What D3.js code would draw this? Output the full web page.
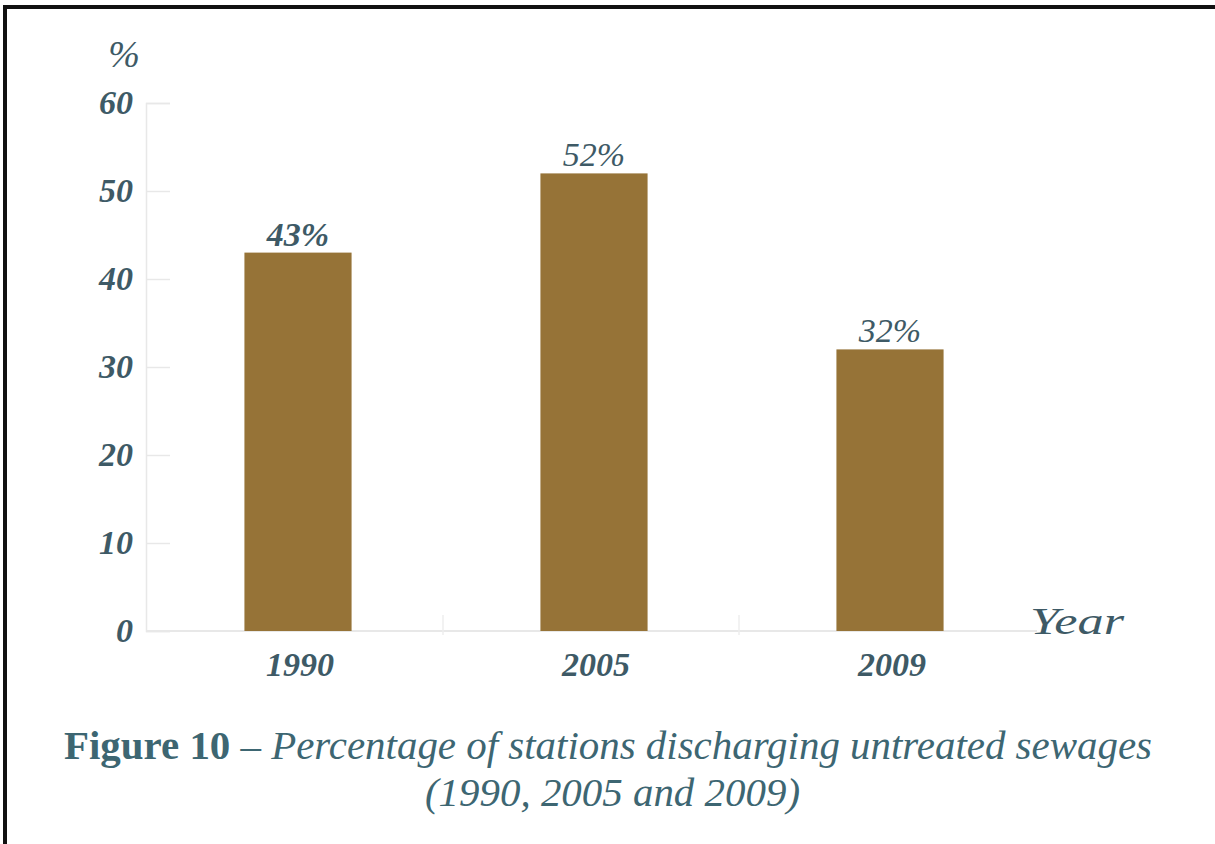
<!DOCTYPE html>
<html>
<head>
<meta charset="utf-8">
<script src="https://cdn.jsdelivr.net/npm/d3@7"></script>
<style>
  html, body { margin: 0; padding: 0; background: #fff; }
  svg { display: block; }
  .serif { font-family: "Liberation Serif", "Times New Roman", Tinos, Times, serif; }
</style>
</head>
<body>
<svg id="chart" width="1215" height="844"></svg>
<script>
// Share of stations discharging untreated sewage, by survey year
const years = ["1990", "2005", "2009"];
const shares = [43, 52, 32];
const yTicks = [0, 10, 20, 30, 40, 50, 60];

const svg = d3.select("#chart");
const W = 1215, H = 844;
const textColor = "#3e5a66";
const barColor = "#967337";
const capColor = "#3d6672";

// page frame (top and left rules)
svg.append("rect").attr("x", 3).attr("y", 5).attr("width", W - 3).attr("height", 4).attr("fill", "#111");
svg.append("rect").attr("x", 3).attr("y", 5).attr("width", 4).attr("height", H - 5).attr("fill", "#111");

const plot = { left: 146, right: 1037, top: 103, bottom: 631 };

const x = d3.scaleBand().domain(years).range([150, 1038]).padding(0);
const y = d3.scaleLinear().domain([0, 60]).range([plot.bottom, plot.top]);
const barW = x.bandwidth() * 0.362;

const g = svg.append("g");

// y axis: faint spine with short ticks to the right
const yAxis = d3.axisRight(y).tickValues(yTicks).tickSize(24).tickFormat("");
const ya = g.append("g").attr("transform", `translate(${plot.left},0)`).call(yAxis);
ya.select(".domain").attr("stroke", "#e8e8e8").attr("stroke-width", 1.5);
ya.selectAll(".tick line").attr("stroke", "#e8e8e8").attr("stroke-width", 1.5);

// y tick labels
g.selectAll(".ylab").data(yTicks).join("text")
  .attr("class", "ylab serif")
  .attr("x", plot.left - 13)
  .attr("y", d => y(d) + 11)
  .attr("text-anchor", "end")
  .attr("font-style", "italic").attr("font-weight", "bold")
  .attr("font-size", 34).attr("fill", textColor)
  .text(d => d);

// unit label
g.append("text").attr("class", "serif").attr("x", 124).attr("y", 67).attr("text-anchor", "middle")
  .attr("font-style", "italic")
  .attr("font-size", 38).attr("fill", textColor).text("%");

// x baseline and band dividers
g.append("line").attr("x1", plot.left).attr("x2", plot.right)
  .attr("y1", plot.bottom).attr("y2", plot.bottom)
  .attr("stroke", "#e8e8e8").attr("stroke-width", 2);
g.selectAll(".div").data(years.slice(1)).join("line")
  .attr("class", "div")
  .attr("x1", d => x(d) - 3).attr("x2", d => x(d) - 3)
  .attr("y1", plot.bottom - 16).attr("y2", plot.bottom + 4)
  .attr("stroke", "#eeeeee").attr("stroke-width", 1.5);

// bars
g.selectAll(".bar").data(years).join("rect")
  .attr("class", "bar")
  .attr("x", (d) => x(d) + x.bandwidth() / 2 - barW / 2)
  .attr("width", barW)
  .attr("y", (d, i) => y(shares[i]))
  .attr("height", (d, i) => y(0) - y(shares[i]))
  .attr("fill", barColor);

// value labels
g.selectAll(".val").data(years).join("text")
  .attr("class", "val serif")
  .attr("x", d => x(d) + x.bandwidth() / 2)
  .attr("y", (d, i) => y(shares[i]) - 7)
  .attr("text-anchor", "middle")
  .attr("font-style", "italic")
  .attr("font-weight", (d, i) => i === 0 ? "bold" : "normal")
  .attr("font-size", 34).attr("fill", textColor)
  .text((d, i) => shares[i] + "%");

// year labels
g.selectAll(".xlab").data(years).join("text")
  .attr("class", "xlab serif")
  .attr("x", d => x(d) + x.bandwidth() / 2 + 2)
  .attr("y", 676)
  .attr("text-anchor", "middle")
  .attr("font-style", "italic").attr("font-weight", "bold")
  .attr("font-size", 34).attr("fill", textColor)
  .text(d => d);

// x axis name
g.append("text").attr("class", "serif").attr("x", 1030).attr("y", 634)
  .attr("font-style", "italic")
  .attr("font-size", 38).attr("fill", textColor)
  .attr("textLength", 94).attr("lengthAdjust", "spacingAndGlyphs")
  .text("Year");

// caption
const cap = svg.append("text").attr("class", "serif").attr("x", 64).attr("y", 759)
  .attr("font-size", 40).attr("fill", capColor)
  .attr("textLength", 1088).attr("lengthAdjust", "spacingAndGlyphs");
cap.append("tspan").attr("font-weight", "bold").text("Figure 10");
cap.append("tspan").attr("font-style", "italic").text(" \u2013 Percentage of stations discharging untreated sewages");

svg.append("text").attr("class", "serif").attr("x", 425).attr("y", 806)
  .attr("font-style", "italic")
  .attr("font-size", 40).attr("fill", capColor)
  .attr("textLength", 375).attr("lengthAdjust", "spacingAndGlyphs")
  .text("(1990, 2005 and 2009)");
</script>
</body>
</html>
